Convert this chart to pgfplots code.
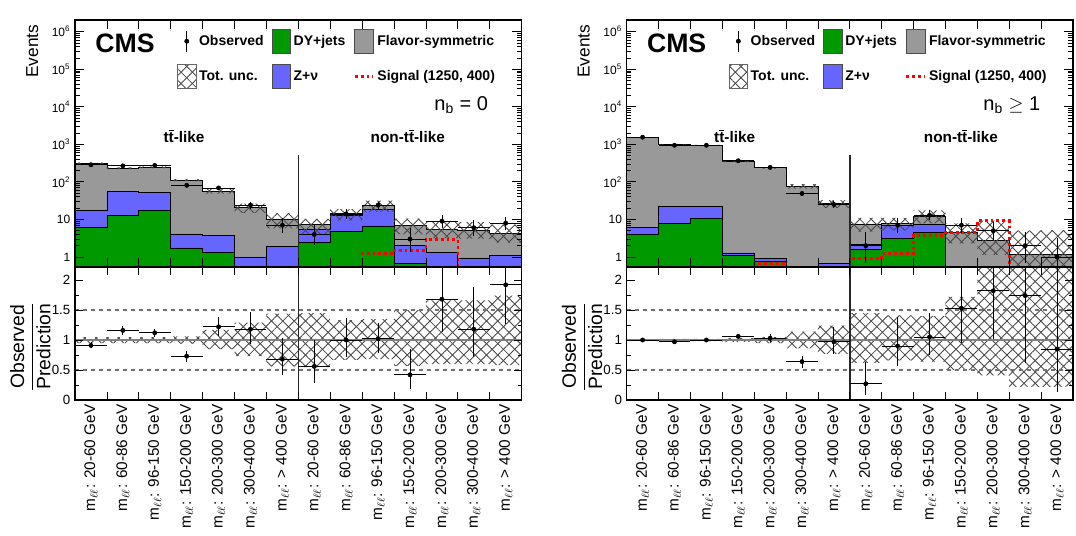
\documentclass[border=0pt]{standalone}
\usepackage{pgfplots}
\pgfplotsset{compat=1.18}
\usepackage{pgfplotstable}
\usetikzlibrary{patterns.meta}
\usepackage{fontspec}
\setmainfont{Liberation Sans}

\definecolor{dygreen}{RGB}{0,153,0}
\definecolor{zblue}{RGB}{102,102,255}
\definecolor{fsgray}{RGB}{153,153,153}

\tikzset{
  hatchA/.style={pattern={Lines[angle=45,distance=6pt,line width=0.65pt]}, pattern color=black!72},
  hatchB/.style={pattern={Lines[angle=-45,distance=6pt,line width=0.65pt]}, pattern color=black!72},
}

\pgfplotstableread{
x dy dz tot
0 1e-4 1e-4 1e-4
0 6.0 17 312
1 12.7 57 232
2 17.6 52 246
3 1.74 4.1 111
4 1.3 3.7 57
5 1e-4 1.0 20.5
6 1e-4 1.93 10.3
7 2.4 5.4 7.2
8 4.9 13.0 14.1
9 6.7 18.7 23.5
10 0.66 2.0 7.0
11 1e-4 1.3 5.4
12 1e-4 0.94 5.1
13 1e-4 1.1 4.2
14 1e-4 1.1 4.2
14 1e-4 1e-4 1e-4
}\stackL

\pgfplotstableread{
x n ex em ep r rem rep
0.5 285 0.5 16.4 17.4 0.91 0.04 0.05
1.5 267 0.5 15.8 16.8 1.16 0.08 0.08
2.5 274 0.5 16.1 17.1 1.12 0.07 0.07
3.5 81 0.5 8.5 9.5 0.73 0.09 0.09
4.5 69 0.5 7.8 8.8 1.22 0.16 0.16
5.5 24 0.5 4.87 5.97 1.18 0.25 0.29
6.5 7 0.5 2.58 3.77 0.68 0.26 0.36
7.5 4 0.5 1.91 3.16 0.56 0.27 0.44
8.5 14 0.5 3.70 4.83 1.00 0.28 0.36
9.5 24 0.5 4.87 5.97 1.02 0.24 0.26
10.5 3 0.5 1.63 2.92 0.42 0.23 0.43
11.5 9 0.5 2.94 4.11 1.68 0.55 0.76
12.5 6 0.5 2.38 3.58 1.18 0.46 0.70
13.5 8 0.5 2.77 3.95 1.92 0.66 0.94
}\dataL

\pgfplotstableread{
x dy dz tot
0 1e-4 1e-4 1e-4
0 3.95 6.0 1550
1 7.8 22.6 975
2 10.8 21.7 945
3 1.09 1.28 345
4 0.74 0.92 236
5 1e-4 1e-4 77
6 1e-4 0.66 26.3
7 1.57 2.1 7.6
8 3.1 7.0 7.8
9 4.5 7.5 12.4
10 1e-4 1e-4 4.6
11 1e-4 1e-4 2.75
12 1e-4 1e-4 1.15
13 1e-4 1e-4 1.18
14 1e-4 1e-4 1.18
14 1e-4 1e-4 1e-4
}\stackR

\pgfplotstableread{
x n ex em ep r rem rep
0.5 1550 0.5 38.9 39.9 1.00 0.025 0.026
1.5 945 0.5 30.7 31.7 0.97 0.03 0.03
2.5 945 0.5 30.7 31.7 1.00 0.03 0.03
3.5 365 0.5 19.1 20.1 1.06 0.04 0.04
4.5 243 0.5 15.6 16.6 1.03 0.07 0.07
5.5 49 0.5 7.0 8.0 0.64 0.10 0.10
6.5 25 0.5 4.97 6.07 0.97 0.20 0.25
7.5 2 0.5 1.29 2.64 0.27 0.18 0.37
8.5 7 0.5 2.58 3.77 0.90 0.33 0.49
9.5 13 0.5 3.58 4.70 1.05 0.30 0.40
10.5 7 0.5 2.58 3.77 1.53 0.58 0.82
11.5 5 0.5 2.16 3.38 1.82 0.80 1.20
12.5 2 0.5 1.29 2.64 1.74 1.12 2.30
13.5 1 0.5 0.83 2.30 0.85 0.71 1.95
}\dataR

\begin{document}
\begin{tikzpicture}
\useasboundingbox (0,0) rectangle (807pt,402pt);

% ================= LEFT UPPER =================
\begin{axis}[at={(56.25pt,201.75pt)}, anchor=south west,
    scale only axis, width=335pt, height=185.25pt, xmin=0, xmax=14,
    ymode=log, ymin=0.541, ymax=2.05e6,
    axis on top, tick align=inside, axis line style={line width=0.8pt},
    tick style={line width=0.6pt, black},
    xtick={0,...,14}, xticklabels={},
    ytick={1,10,100,1000,10000,100000,1000000},
    yticklabels={1,10,10\textsuperscript{2},10\textsuperscript{3},10\textsuperscript{4},10\textsuperscript{5},10\textsuperscript{6}},
    yticklabel style={font=\fontsize{9}{10}\selectfont},
    major tick length=7pt, minor tick length=3.5pt,
    ylabel={Events},
    ylabel style={at={(axis description cs:-0.096,1)}, anchor=east, font=\fontsize{13}{15}\selectfont},
    legend style={at={(0.228,0.965)}, anchor=north west, draw=none, fill=none, inner sep=0pt,
      font=\bfseries\fontsize{10.5}{12}\selectfont, row sep=8pt,
      /tikz/every even column/.append style={column sep=4pt}},
    legend columns=3, legend cell align=left]
\addlegendimage{legend image code/.code={\path[draw=none,fill=none] (0pt,-9pt) rectangle (14pt,9pt); \draw[black, line width=0.6pt] (7pt,-8pt) -- (7pt,8pt); \fill[black] (7pt,0pt) circle (1.6pt);}}
\addlegendentry{Observed}
\addlegendimage{legend image code/.code={\draw[fill=dygreen, draw=black!70, line width=0.5pt] (0pt,-9pt) rectangle (14pt,9pt);}}
\addlegendentry{DY+jets}
\addlegendimage{legend image code/.code={\draw[fill=fsgray, draw=black!70, line width=0.5pt] (0pt,-9pt) rectangle (14pt,9pt);}}
\addlegendentry{Flavor-symmetric}
\addlegendimage{legend image code/.code={\path[hatchA, draw=none] (0pt,-9pt) rectangle (14pt,9pt); \path[hatchB, draw=none] (0pt,-9pt) rectangle (14pt,9pt); \draw[black!60, line width=0.5pt, fill=none] (0pt,-9pt) rectangle (14pt,9pt);}}
\addlegendentry{Tot. unc.}
\addlegendimage{legend image code/.code={\draw[fill=zblue, draw=black!70, line width=0.5pt] (0pt,-9pt) rectangle (14pt,9pt);}}
\addlegendentry{Z+ν}
\addlegendimage{legend image code/.code={\path[draw=none,fill=none] (0pt,-9pt) rectangle (14pt,9pt); \draw[red, line width=2pt, dash pattern=on 2.2pt off 2.2pt] (0pt,0pt) -- (14pt,0pt);}}
\addlegendentry{Signal (1250, 400)}
\addplot[const plot, draw=black, line width=0.6pt, forget plot, fill=fsgray] table[x=x, y=tot] {\stackL};
\addplot[const plot, draw=black, line width=0.6pt, forget plot, fill=zblue] table[x=x, y=dz] {\stackL};
\addplot[const plot, draw=black, line width=0.6pt, forget plot, fill=dygreen] table[x=x, y=dy] {\stackL};
\addplot[const plot, draw=none, hatchA, forget plot] coordinates {(0,327.6)(1,243.6)(2,258.3)(3,117.7)(4,66.7)(5,26.4)(6,14.8)(7,10.4)(8,18.8)(9,31.7)(10,10.5)(11,9.0)(12,8.5)(13,7.3)(14,7.3)
 (14,2.4)(13,3.1)(12,3.2)(11,4.0)(10,16.0)(9,9.4)(8,4.0)(7,5.8)(6,15.0)(5,48.5)(4,104.3)(3,233.7)(2,220.4)(1,296.4)(0,296.4)};
\addplot[const plot, draw=none, hatchB, forget plot] coordinates {(0,327.6)(1,243.6)(2,258.3)(3,117.7)(4,66.7)(5,26.4)(6,14.8)(7,10.4)(8,18.8)(9,31.7)(10,10.5)(11,9.0)(12,8.5)(13,7.3)(14,7.3)
 (14,2.4)(13,3.1)(12,3.2)(11,4.0)(10,16.0)(9,9.4)(8,4.0)(7,5.8)(6,15.0)(5,48.5)(4,104.3)(3,233.7)(2,220.4)(1,296.4)(0,296.4)};
\addplot[const plot, red, line width=2pt, dash pattern=on 2.2pt off 2.2pt, forget plot] coordinates {(0,0.541)(9,1.23)(10,1.5)(11,2.9)(12,0.541)(14,0.541)};
\addplot[only marks, mark=*, mark size=1.6pt, black, forget plot,
  error bars/x dir=both, error bars/x explicit, error bars/y dir=both, error bars/y explicit,
  error bars/error bar style={line width=0.6pt, black}, error bars/error mark=none]
  table[x=x, y=n, x error=ex, y error minus=em, y error plus=ep] {\dataL};
\addplot[black!85, line width=1pt, forget plot] coordinates {(7,515)(7,0.3)};
\node[anchor=west, font=\bfseries\fontsize{20}{22}\selectfont] at (rel axis cs:0.035,0.905) {CMS};
\node[anchor=east, font=\fontsize{15}{17}\selectfont] at (rel axis cs:0.935,0.655) {n\textsubscript{b} = 0};
\node[font=\bfseries\fontsize{11.5}{13}\selectfont] at (rel axis cs:0.244,0.53) {t$\overline{\mbox{t}}$-like};
\node[font=\bfseries\fontsize{11.5}{13}\selectfont] at (rel axis cs:0.745,0.53) {non-t$\overline{\mbox{t}}$-like};
\node[anchor=south east, inner sep=0pt, font=\fontsize{10}{12}\selectfont] at (rel axis cs:1,1.018) {137 fb\textsuperscript{-1} (13 TeV)};
\end{axis}

% ================= LEFT LOWER =================
\begin{axis}[at={(56.25pt,102pt)}, anchor=south west,
    scale only axis, width=335pt, height=99.75pt, xmin=0, xmax=14, ymin=0, ymax=2.217,
    axis on top, tick align=inside, axis line style={line width=0.8pt},
    tick style={line width=0.6pt, black},
    xtick={0,...,14}, xticklabels={},
    extra x ticks={0.5,1.5,...,13.5},
    extra x tick labels={m$_{\ell\ell}$: 20-60 GeV, m$_{\ell\ell}$: 60-86 GeV, m$_{\ell\ell}$: 96-150 GeV, m$_{\ell\ell}$: 150-200 GeV, m$_{\ell\ell}$: 200-300 GeV, m$_{\ell\ell}$: 300-400 GeV, m$_{\ell\ell}$: > 400 GeV,
      m$_{\ell\ell}$: 20-60 GeV, m$_{\ell\ell}$: 60-86 GeV, m$_{\ell\ell}$: 96-150 GeV, m$_{\ell\ell}$: 150-200 GeV, m$_{\ell\ell}$: 200-300 GeV, m$_{\ell\ell}$: 300-400 GeV, m$_{\ell\ell}$: > 400 GeV},
    extra x tick style={tick style={draw=none}, tick label style={rotate=90, anchor=east, font=\fontsize{11.5}{13}\selectfont}},
    ytick={0,0.5,1,1.5,2}, yticklabels={0,0.5,1,1.5,2}, minor y tick num=1,
    major tick length=6pt, minor tick length=3pt,
    yticklabel style={font=\fontsize{10}{12}\selectfont},
    ylabel={$\displaystyle\frac{\mbox{Observed}}{\mbox{Prediction}}$},
    ylabel style={at={(axis description cs:-0.1,0.4)}, anchor=center, font=\fontsize{14.5}{16}\selectfont}]
\addplot[const plot, draw=none, hatchA, forget plot] coordinates {(0,1.05)(1,1.05)(2,1.05)(3,1.06)(4,1.17)(5,1.29)(6,1.44)(7,1.45)(8,1.33)(9,1.35)(10,1.5)(11,1.66)(12,1.66)(13,1.74)(14,1.74)
 (14,0.58)(13,0.6)(12,0.6)(11,0.57)(10,0.68)(9,0.67)(8,0.55)(7,0.56)(6,0.73)(5,0.85)(4,0.94)(3,0.95)(2,0.95)(1,0.95)(0,0.95)};
\addplot[const plot, draw=none, hatchB, forget plot] coordinates {(0,1.05)(1,1.05)(2,1.05)(3,1.06)(4,1.17)(5,1.29)(6,1.44)(7,1.45)(8,1.33)(9,1.35)(10,1.5)(11,1.66)(12,1.66)(13,1.74)(14,1.74)
 (14,0.58)(13,0.6)(12,0.6)(11,0.57)(10,0.68)(9,0.67)(8,0.55)(7,0.56)(6,0.73)(5,0.85)(4,0.94)(3,0.95)(2,0.95)(1,0.95)(0,0.95)};
\addplot[black!55, dashed, line width=0.8pt, forget plot] coordinates {(0,0.5)(14,0.5)};
\addplot[black!55, dashed, line width=0.8pt, forget plot] coordinates {(0,1.5)(14,1.5)};
\addplot[black!50, line width=1.3pt, forget plot] coordinates {(0,1)(14,1)};
\addplot[black!85, line width=1pt, forget plot] coordinates {(7,0)(7,2.217)};
\addplot[only marks, mark=*, mark size=1.6pt, black, forget plot,
  error bars/x dir=both, error bars/x explicit, error bars/y dir=both, error bars/y explicit,
  error bars/error bar style={line width=0.6pt, black}, error bars/error mark=none]
  table[x=x, y=r, x error=ex, y error minus=rem, y error plus=rep] {\dataL};
\end{axis}

% ================= RIGHT UPPER =================
\begin{axis}[at={(470pt,201.75pt)}, anchor=south west,
    scale only axis, width=334.75pt, height=185.25pt, xmin=0, xmax=14,
    ymode=log, ymin=0.541, ymax=2.05e6,
    axis on top, tick align=inside, axis line style={line width=0.8pt},
    tick style={line width=0.6pt, black},
    xtick={0,...,14}, xticklabels={},
    ytick={1,10,100,1000,10000,100000,1000000},
    yticklabels={1,10,10\textsuperscript{2},10\textsuperscript{3},10\textsuperscript{4},10\textsuperscript{5},10\textsuperscript{6}},
    yticklabel style={font=\fontsize{9}{10}\selectfont},
    major tick length=7pt, minor tick length=3.5pt,
    ylabel={Events},
    ylabel style={at={(axis description cs:-0.096,1)}, anchor=east, font=\fontsize{13}{15}\selectfont},
    legend style={at={(0.228,0.965)}, anchor=north west, draw=none, fill=none, inner sep=0pt,
      font=\bfseries\fontsize{10.5}{12}\selectfont, row sep=8pt,
      /tikz/every even column/.append style={column sep=4pt}},
    legend columns=3, legend cell align=left]
\addlegendimage{legend image code/.code={\path[draw=none,fill=none] (0pt,-9pt) rectangle (14pt,9pt); \draw[black, line width=0.6pt] (7pt,-8pt) -- (7pt,8pt); \fill[black] (7pt,0pt) circle (1.6pt);}}
\addlegendentry{Observed}
\addlegendimage{legend image code/.code={\draw[fill=dygreen, draw=black!70, line width=0.5pt] (0pt,-9pt) rectangle (14pt,9pt);}}
\addlegendentry{DY+jets}
\addlegendimage{legend image code/.code={\draw[fill=fsgray, draw=black!70, line width=0.5pt] (0pt,-9pt) rectangle (14pt,9pt);}}
\addlegendentry{Flavor-symmetric}
\addlegendimage{legend image code/.code={\path[hatchA, draw=none] (0pt,-9pt) rectangle (14pt,9pt); \path[hatchB, draw=none] (0pt,-9pt) rectangle (14pt,9pt); \draw[black!60, line width=0.5pt, fill=none] (0pt,-9pt) rectangle (14pt,9pt);}}
\addlegendentry{Tot. unc.}
\addlegendimage{legend image code/.code={\draw[fill=zblue, draw=black!70, line width=0.5pt] (0pt,-9pt) rectangle (14pt,9pt);}}
\addlegendentry{Z+ν}
\addlegendimage{legend image code/.code={\path[draw=none,fill=none] (0pt,-9pt) rectangle (14pt,9pt); \draw[red, line width=2pt, dash pattern=on 2.2pt off 2.2pt] (0pt,0pt) -- (14pt,0pt);}}
\addlegendentry{Signal (1250, 400)}
\addplot[const plot, draw=black, line width=0.6pt, forget plot, fill=fsgray] table[x=x, y=tot] {\stackR};
\addplot[const plot, draw=black, line width=0.6pt, forget plot, fill=zblue] table[x=x, y=dz] {\stackR};
\addplot[const plot, draw=black, line width=0.6pt, forget plot, fill=dygreen] table[x=x, y=dy] {\stackR};
\addplot[const plot, draw=none, hatchA, forget plot] coordinates {(0,1565.5)(1,994.5)(2,963.9)(3,355.4)(4,247.8)(5,87.8)(6,32.6)(7,11.0)(8,11.0)(9,17.4)(10,7.9)(11,9.35)(12,5.06)(13,5.19)(14,5.19)
 (14,0.26)(13,0.25)(12,1.13)(11,2.3)(10,7.9)(9,5.1)(8,4.7)(7,20.3)(6,66.2)(5,224.2)(4,334.7)(3,926.1)(2,955.5)(1,1534.5)(0,1534.5)};
\addplot[const plot, draw=none, hatchB, forget plot] coordinates {(0,1565.5)(1,994.5)(2,963.9)(3,355.4)(4,247.8)(5,87.8)(6,32.6)(7,11.0)(8,11.0)(9,17.4)(10,7.9)(11,9.35)(12,5.06)(13,5.19)(14,5.19)
 (14,0.26)(13,0.25)(12,1.13)(11,2.3)(10,7.9)(9,5.1)(8,4.7)(7,20.3)(6,66.2)(5,224.2)(4,334.7)(3,926.1)(2,955.5)(1,1534.5)(0,1534.5)};
\addplot[const plot, red, line width=2pt, dash pattern=on 2.2pt off 2.2pt, forget plot] coordinates {(0,0.541)(4,0.66)(5,0.541)(7,0.9)(8,1.23)(9,3.8)(10,4.4)(11,9.2)(12,0.541)(14,0.541)};
\addplot[only marks, mark=*, mark size=1.6pt, black, forget plot,
  error bars/x dir=both, error bars/x explicit, error bars/y dir=both, error bars/y explicit,
  error bars/error bar style={line width=0.6pt, black}, error bars/error mark=none]
  table[x=x, y=n, x error=ex, y error minus=em, y error plus=ep] {\dataR};
\addplot[black!85, line width=1pt, forget plot] coordinates {(7,515)(7,0.3)};
\node[anchor=west, font=\bfseries\fontsize{20}{22}\selectfont] at (rel axis cs:0.035,0.905) {CMS};
\node[anchor=east, font=\fontsize{15}{17}\selectfont] at (rel axis cs:0.937,0.655) {n\textsubscript{b} $\geq$ 1};
\node[font=\bfseries\fontsize{11.5}{13}\selectfont] at (rel axis cs:0.242,0.53) {t$\overline{\mbox{t}}$-like};
\node[font=\bfseries\fontsize{11.5}{13}\selectfont] at (rel axis cs:0.749,0.53) {non-t$\overline{\mbox{t}}$-like};
\node[anchor=south east, inner sep=0pt, font=\fontsize{10}{12}\selectfont] at (rel axis cs:1,1.018) {137 fb\textsuperscript{-1} (13 TeV)};
\end{axis}

% ================= RIGHT LOWER =================
\begin{axis}[at={(470pt,102pt)}, anchor=south west,
    scale only axis, width=334.75pt, height=99.75pt, xmin=0, xmax=14, ymin=0, ymax=2.217,
    axis on top, tick align=inside, axis line style={line width=0.8pt},
    tick style={line width=0.6pt, black},
    xtick={0,...,14}, xticklabels={},
    extra x ticks={0.5,1.5,...,13.5},
    extra x tick labels={m$_{\ell\ell}$: 20-60 GeV, m$_{\ell\ell}$: 60-86 GeV, m$_{\ell\ell}$: 96-150 GeV, m$_{\ell\ell}$: 150-200 GeV, m$_{\ell\ell}$: 200-300 GeV, m$_{\ell\ell}$: 300-400 GeV, m$_{\ell\ell}$: > 400 GeV,
      m$_{\ell\ell}$: 20-60 GeV, m$_{\ell\ell}$: 60-86 GeV, m$_{\ell\ell}$: 96-150 GeV, m$_{\ell\ell}$: 150-200 GeV, m$_{\ell\ell}$: 200-300 GeV, m$_{\ell\ell}$: 300-400 GeV, m$_{\ell\ell}$: > 400 GeV},
    extra x tick style={tick style={draw=none}, tick label style={rotate=90, anchor=east, font=\fontsize{11.5}{13}\selectfont}},
    ytick={0,0.5,1,1.5,2}, yticklabels={0,0.5,1,1.5,2}, minor y tick num=1,
    major tick length=6pt, minor tick length=3pt,
    yticklabel style={font=\fontsize{10}{12}\selectfont},
    ylabel={$\displaystyle\frac{\mbox{Observed}}{\mbox{Prediction}}$},
    ylabel style={at={(axis description cs:-0.1,0.4)}, anchor=center, font=\fontsize{14.5}{16}\selectfont}]
\addplot[const plot, draw=none, hatchA, forget plot] coordinates {(0,1.01)(1,1.02)(2,1.02)(3,1.03)(4,1.05)(5,1.14)(6,1.24)(7,1.45)(8,1.41)(9,1.4)(10,1.72)(11,3.4)(12,4.4)(13,4.4)(14,4.4)
 (14,0.22)(13,0.22)(12,0.41)(11,0.5)(10,0.64)(9,0.66)(8,0.62)(7,0.77)(6,0.86)(5,0.95)(4,0.97)(3,0.98)(2,0.98)(1,0.99)(0,0.99)};
\addplot[const plot, draw=none, hatchB, forget plot] coordinates {(0,1.01)(1,1.02)(2,1.02)(3,1.03)(4,1.05)(5,1.14)(6,1.24)(7,1.45)(8,1.41)(9,1.4)(10,1.72)(11,3.4)(12,4.4)(13,4.4)(14,4.4)
 (14,0.22)(13,0.22)(12,0.41)(11,0.5)(10,0.64)(9,0.66)(8,0.62)(7,0.77)(6,0.86)(5,0.95)(4,0.97)(3,0.98)(2,0.98)(1,0.99)(0,0.99)};
\addplot[black!55, dashed, line width=0.8pt, forget plot] coordinates {(0,0.5)(14,0.5)};
\addplot[black!55, dashed, line width=0.8pt, forget plot] coordinates {(0,1.5)(14,1.5)};
\addplot[black!50, line width=1.3pt, forget plot] coordinates {(0,1)(14,1)};
\addplot[black!85, line width=1pt, forget plot] coordinates {(7,0)(7,2.217)};
\addplot[only marks, mark=*, mark size=1.6pt, black, forget plot,
  error bars/x dir=both, error bars/x explicit, error bars/y dir=both, error bars/y explicit,
  error bars/error bar style={line width=0.6pt, black}, error bars/error mark=none]
  table[x=x, y=r, x error=ex, y error minus=rem, y error plus=rep] {\dataR};
\end{axis}
\end{tikzpicture}
\end{document}
